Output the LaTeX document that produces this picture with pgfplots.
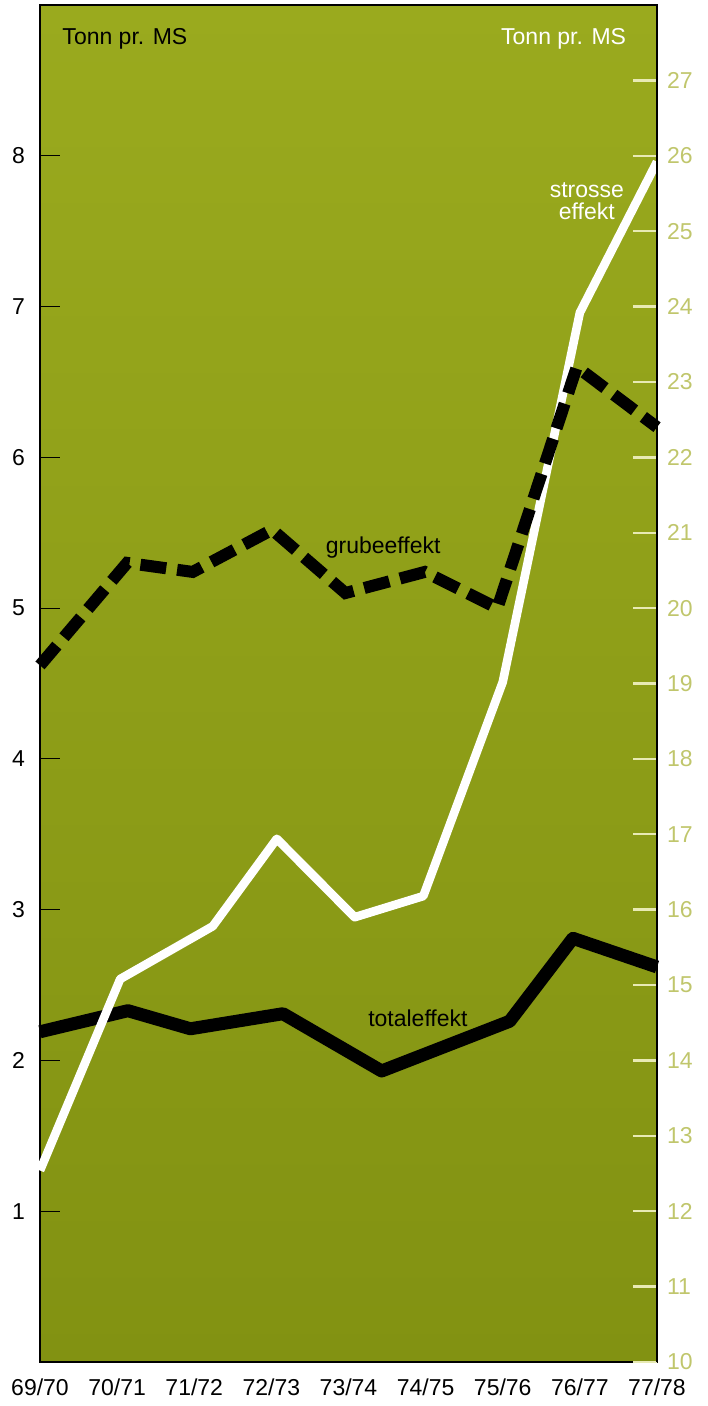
\documentclass[border=0pt]{standalone}
\usepackage{fontspec}
\setmainfont{Liberation Sans}
\usepackage{pgfplots}
\pgfplotsset{compat=1.18}

\definecolor{bgtop}{RGB}{154,170,30}
\definecolor{bgbot}{RGB}{130,146,18}
\definecolor{rlab}{RGB}{192,198,108}
\definecolor{rtick}{RGB}{232,234,180}

\begin{document}
\begin{tikzpicture}
\path[use as bounding box] (-20pt,-22pt) rectangle (333.5pt,681pt);
% left axis, tonn pr. MS
\begin{axis}[
    scale only axis,
    width=308.5pt, height=678.5pt,
    xmin=0, xmax=8, ymin=0, ymax=9,
    axis background/.style={top color=bgtop, bottom color=bgbot},
    axis line style={black, line width=0.8pt},
    xtick={0,...,8},
    xticklabels={69/70,70/71,71/72,72/73,73/74,74/75,75/76,76/77,77/78},
    xtick style={draw=none},
    xticklabel style={yshift=-5pt},
    ytick={1,...,8},
    ytick pos=left,
    tick align=inside,
    major tick length=10pt,
    ytick style={black, line width=0.6pt},
    yticklabel style={xshift=-4pt},
    ticklabel style={font=\fontsize{11.5}{13}\selectfont},
    /pgf/number format/assume math mode=true,
    clip=false,
]
% totaleffekt
\addplot[black, line width=6.5pt, line join=round] coordinates {
  (0,2.19) (1.14,2.33) (1.95,2.21) (3.15,2.31) (4.43,1.93)
  (6.09,2.26) (6.91,2.81) (8,2.62)};
% strosse effekt
\addplot[white, line width=4.3pt, line join=round] coordinates {
  (0,1.27) (1.04,2.54) (2.24,2.89) (3.07,3.47) (4.08,2.95)
  (4.97,3.09) (6.0,4.51) (7.0,6.96) (8,7.96)};
% grubeeffekt
\addplot[black, line width=6pt, dash pattern=on 13pt off 5.5pt] coordinates {
  (0,4.62) (1.13,5.30) (1.98,5.24) (3.01,5.52) (3.96,5.10)
  (4.99,5.24) (5.93,5.00) (6.96,6.60) (8,6.20)};

\node[anchor=base west, font=\fontsize{11.5}{13}\selectfont] at (axis cs:0.20,8.735) {Tonn pr. MS};
\node[anchor=base east, white, font=\fontsize{11.5}{13}\selectfont] at (axis cs:7.69,8.735) {Tonn pr. MS};
\node[white, align=center, font=\fontsize{11.5}{11}\selectfont] at (axis cs:7.09,7.70) {strosse\\effekt};
\node[font=\fontsize{11.5}{13}\selectfont] at (axis cs:4.45,5.40) {grubeeffekt};
\node[font=\fontsize{11.5}{13}\selectfont] at (axis cs:4.90,2.28) {totaleffekt};
\end{axis}
% right axis
\begin{axis}[
    scale only axis,
    width=308.5pt, height=678.5pt,
    xmin=0, xmax=8, ymin=10, ymax=28,
    hide x axis,
    axis y line*=right,
    axis line style={black, line width=0.8pt},
    ytick={10,...,27},
    tick align=inside,
    major tick length=12pt,
    ytick style={rtick, line width=1.2pt},
    yticklabel style={rlab, xshift=1.5pt, font=\fontsize{11.5}{13}\selectfont},
    /pgf/number format/assume math mode=true,
]
\end{axis}
\end{tikzpicture}
\end{document}
